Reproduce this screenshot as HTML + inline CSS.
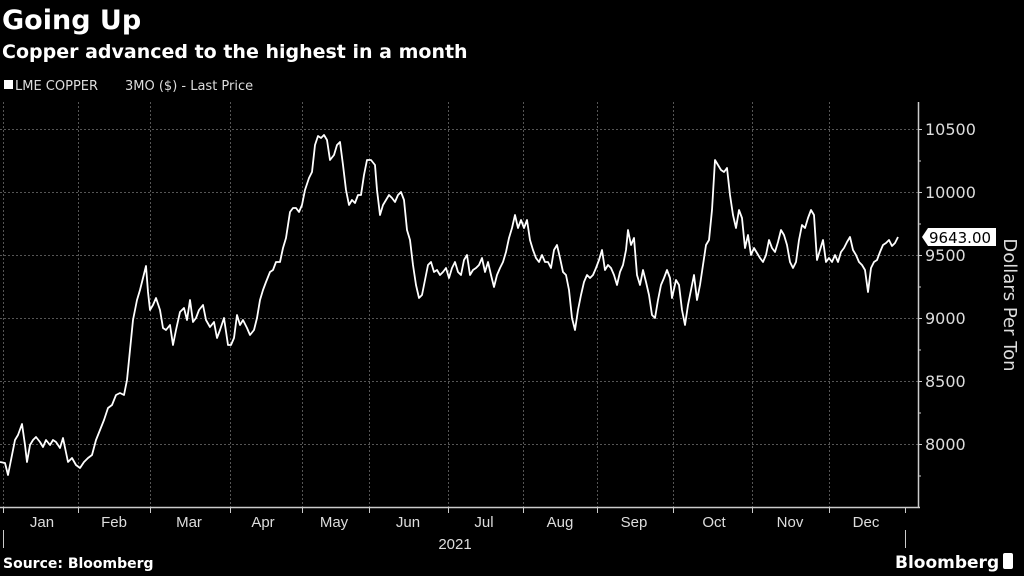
<!DOCTYPE html>
<html><head><meta charset="utf-8"><style>
body{margin:0;background:#000;width:1024px;height:576px;overflow:hidden;font-family:"Liberation Sans","DejaVu Sans",sans-serif;}
svg{display:block}
</style></head><body>
<svg width="1024" height="576" viewBox="0 0 1024 576" xmlns="http://www.w3.org/2000/svg" font-family="DejaVu Sans, Liberation Sans, sans-serif">
<rect width="1024" height="576" fill="#000"/>
<text x="2" y="29" fill="#fff" font-size="27" font-weight="bold">Going Up</text>
<text x="2" y="58" fill="#fff" font-size="19" font-weight="bold">Copper advanced to the highest in a month</text>
<rect x="4" y="80" width="9" height="9" fill="#fff"/>
<text x="15" y="90" fill="#ddd" font-size="13">LME COPPER</text>
<text x="125" y="90" fill="#ddd" font-size="13">3MO ($) - Last Price</text>
<g stroke="#555" stroke-width="1" stroke-dasharray="2,2">
<line x1="0" x2="918" y1="129.5" y2="129.5"/><line x1="0" x2="918" y1="192.5" y2="192.5"/>
<line x1="0" x2="918" y1="255.5" y2="255.5"/><line x1="0" x2="918" y1="318.5" y2="318.5"/>
<line x1="0" x2="918" y1="381.5" y2="381.5"/><line x1="0" x2="918" y1="444.5" y2="444.5"/>
<line x1="3.5" x2="3.5" y1="102" y2="507"/><line x1="78.5" x2="78.5" y1="102" y2="507"/>
<line x1="150.5" x2="150.5" y1="102" y2="507"/><line x1="230.5" x2="230.5" y1="102" y2="507"/>
<line x1="302.5" x2="302.5" y1="102" y2="507"/><line x1="369.5" x2="369.5" y1="102" y2="507"/>
<line x1="448.5" x2="448.5" y1="102" y2="507"/><line x1="523.5" x2="523.5" y1="102" y2="507"/>
<line x1="597.5" x2="597.5" y1="102" y2="507"/><line x1="673.5" x2="673.5" y1="102" y2="507"/>
<line x1="752.5" x2="752.5" y1="102" y2="507"/><line x1="829.5" x2="829.5" y1="102" y2="507"/>
</g>
<g stroke="#ccc" stroke-width="1.5">
<line x1="0" x2="920" y1="507.5" y2="507.5"/>
<line x1="918.5" x2="918.5" y1="102" y2="508"/>
<g stroke-width="1">
<line x1="3.5" x2="3.5" y1="507" y2="513"/><line x1="78.5" x2="78.5" y1="507" y2="513"/>
<line x1="150.5" x2="150.5" y1="507" y2="513"/><line x1="230.5" x2="230.5" y1="507" y2="513"/>
<line x1="302.5" x2="302.5" y1="507" y2="513"/><line x1="369.5" x2="369.5" y1="507" y2="513"/>
<line x1="448.5" x2="448.5" y1="507" y2="513"/><line x1="523.5" x2="523.5" y1="507" y2="513"/>
<line x1="597.5" x2="597.5" y1="507" y2="513"/><line x1="673.5" x2="673.5" y1="507" y2="513"/>
<line x1="752.5" x2="752.5" y1="507" y2="513"/><line x1="829.5" x2="829.5" y1="507" y2="513"/>
<line x1="905.5" x2="905.5" y1="507" y2="513"/>
<line x1="905.5" x2="905.5" y1="530" y2="548"/><line x1="3.5" x2="3.5" y1="530" y2="548"/>
<line x1="918" x2="922" y1="129.5" y2="129.5"/><line x1="918" x2="922" y1="192.5" y2="192.5"/>
<line x1="918" x2="922" y1="255.5" y2="255.5"/><line x1="918" x2="922" y1="318.5" y2="318.5"/>
<line x1="918" x2="922" y1="381.5" y2="381.5"/><line x1="918" x2="922" y1="444.5" y2="444.5"/>
<line x1="918" x2="921" y1="161" y2="161"/><line x1="918" x2="921" y1="224" y2="224"/>
<line x1="918" x2="921" y1="287" y2="287"/><line x1="918" x2="921" y1="350" y2="350"/>
<line x1="918" x2="921" y1="413" y2="413"/><line x1="918" x2="921" y1="476" y2="476"/>
</g></g>
<g fill="#ddd" font-size="16">
<text x="925" y="135">10500</text><text x="925" y="198">10000</text>
<text x="925" y="261">9500</text><text x="925" y="324">9000</text>
<text x="925" y="387">8500</text><text x="925" y="450">8000</text>
</g>
<g fill="#ddd" font-size="15" text-anchor="middle" font-family="Liberation Sans Narrow, Liberation Sans, sans-serif">
<text x="42" y="527">Jan</text><text x="114" y="527">Feb</text><text x="189" y="527">Mar</text>
<text x="263" y="527">Apr</text><text x="334" y="527">May</text><text x="408" y="527">Jun</text>
<text x="484" y="527">Jul</text><text x="560" y="527">Aug</text><text x="634" y="527">Sep</text>
<text x="714" y="527">Oct</text><text x="790" y="527">Nov</text><text x="866" y="527">Dec</text>
<text x="455" y="549">2021</text>
</g>
<text transform="translate(1004,305) rotate(90)" fill="#ddd" font-size="18" text-anchor="middle">Dollars Per Ton</text>
<polygon points="922,237 928,228 996,228 996,246 928,246" fill="#fff"/>
<text x="929" y="243" fill="#000" font-size="15">9643.00</text>
<text x="3" y="568" fill="#fff" font-size="14" font-weight="bold">Source: Bloomberg</text>
<text x="895" y="568" fill="#fff" font-size="17" font-weight="bold">Bloomberg</text>
<rect x="1003" y="553" width="10" height="16" rx="2" fill="#fff"/>
<polyline fill="none" stroke="#fff" stroke-width="1.8" stroke-linejoin="round" points="0,462 5,463 8,475 12,455 15,440 18,435 22,424 25,445 27,462 30,445 33,440 36,437 40,442 43,447 46,440 50,445 53,440 56,442 60,448 63,438 68,462 72,458 76,465 80,468 84,462 88,458 92,455 96,440 100,430 104,420 108,408 112,405 116,395 120,393 124,395 127,380 130,350 133,320 137,300 140,290 143,278 146,266 148,292 150,310 153,305 156,298 160,310 163,328 166,330 170,325 173,345 176,330 180,312 184,308 187,320 190,300 193,322 196,318 199,310 203,305 206,320 210,327 214,322 217,338 220,330 224,318 228,345 231,345 234,338 237,315 240,325 243,320 247,328 250,335 254,330 257,318 260,300 263,290 266,282 270,272 273,270 276,262 280,262 283,248 286,238 290,212 293,208 296,208 299,212 302,205 305,190 309,178 312,172 315,145 318,136 321,138 324,135 327,140 330,160 334,155 337,145 340,142 343,165 346,190 349,205 352,200 355,203 358,195 361,195 364,175 367,160 371,160 375,165 377,190 380,215 383,205 386,200 389,195 392,198 395,202 398,195 401,192 404,200 407,230 410,240 413,265 416,285 419,298 422,295 425,280 428,265 431,262 434,272 437,270 440,275 443,272 446,268 449,278 452,268 455,262 458,272 461,275 464,260 467,255 470,275 473,270 476,268 479,265 482,258 485,272 488,262 491,275 494,287 497,275 500,268 503,262 506,252 509,238 512,228 515,215 518,228 521,220 524,228 527,220 530,240 533,250 536,258 539,262 542,255 545,262 548,262 551,268 554,250 557,245 560,258 563,272 566,275 569,290 572,318 575,330 578,310 581,295 584,282 587,275 590,278 593,275 596,268 599,260 602,250 605,270 608,265 611,268 614,275 617,285 620,272 623,265 626,250 628,230 631,245 634,238 637,275 640,285 643,270 646,282 649,295 652,315 655,318 658,300 661,285 664,278 667,270 670,278 672,298 676,280 679,285 682,310 685,325 688,305 691,290 694,275 697,300 700,285 703,265 706,245 709,240 712,210 715,160 718,165 721,170 724,172 727,168 730,195 733,215 736,228 739,210 742,218 745,248 748,235 751,255 754,248 757,253 760,258 763,262 766,255 769,240 772,248 775,252 778,242 781,230 784,235 787,245 790,262 793,268 796,262 799,240 802,225 805,228 808,218 811,210 814,215 817,260 820,250 823,240 826,262 829,258 832,262 835,255 838,262 841,252 844,248 847,242 850,237 853,250 856,255 859,262 862,265 865,270 868,292 871,268 874,262 877,260 880,252 883,245 886,243 889,240 892,246 895,243 898,237"/>
</svg>
</body></html>
